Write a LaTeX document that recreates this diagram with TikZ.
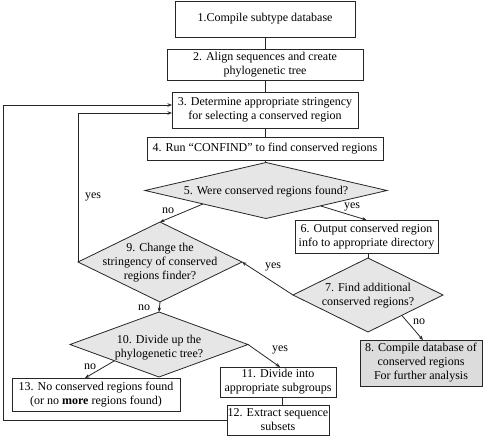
\documentclass[tikz,border=0pt]{standalone}
\usepackage{fontspec}
\setmainfont{Liberation Serif}
\usetikzlibrary{shapes.geometric,arrows.meta,calc}
\definecolor{diagray}{HTML}{E6E6E6}
\definecolor{boxgray}{HTML}{DCDCDC}
\tikzset{
  txt/.style={font=\fontsize{12}{14}\selectfont, align=center, inner sep=0pt},
  stepbox/.style={draw=black!85, line width=0.8pt, rectangle, inner sep=0pt, outer sep=0pt, txt},
  dia/.style={draw=black!85, line width=0.8pt, fill=diagray, diamond, inner sep=0pt, outer sep=0pt},
  conn/.style={draw=black!85, line width=0.8pt},
  arr/.style={conn, -{Stealth[length=4.5pt,width=3.5pt]}},
  lbl/.style={font=\fontsize{12}{14}\selectfont, inner sep=0pt}
}
\begin{document}
\begin{tikzpicture}[x=1pt,y=-1pt]
\useasboundingbox (0,0) rectangle (487,436);
% boxes
\node[stepbox, minimum width=180pt, minimum height=36pt] (b1) at (265,19) {1.Compile subtype database};
\node[stepbox, minimum width=196pt, minimum height=31pt] (b2) at (265,64.5) {2. Align sequences and create\\phylogenetic tree};
\node[stepbox, minimum width=186pt, minimum height=36pt] (b3) at (265,110) {3. Determine appropriate stringency\\for selecting a conserved region};
\node[stepbox, minimum width=236pt, minimum height=23pt] (b4) at (265,148.5) {4. Run ``CONFIND'' to find conserved regions};
\node[stepbox, minimum width=143pt, minimum height=33pt] (b6) at (366.5,236.5) {6. Output conserved region\\info to appropriate directory};
\node[stepbox, fill=boxgray, minimum width=122pt, minimum height=46pt] (b8) at (421,363) {8. Compile database of\\conserved regions\\For further analysis};
\node[stepbox, minimum width=116pt, minimum height=30pt] (b11) at (278,382) {11. Divide into\\appropriate subgroups};
\node[stepbox, minimum width=102pt, minimum height=30pt] (b12) at (278,420) {12. Extract sequence\\subsets};
\node[stepbox, minimum width=168pt, minimum height=33pt] (b13) at (96,394.5) {13. No conserved regions found\\(or no \textbf{more} regions found)};
% diamonds
\node[dia, minimum width=242pt, minimum height=56pt] (d5) at (266,190.5) {};
\node[txt] (t5) at (266,191.5) {5. Were conserved regions found?};
\node[dia, minimum width=164pt, minimum height=80pt] (d9) at (160,262) {};
\node[txt] (t9) at (160,263) {9. Change the\\stringency of conserved\\regions finder?};
\node[dia, minimum width=150pt, minimum height=74pt] (d7) at (368,295) {};
\node[txt] (t7) at (368,296) {7. Find additional\\conserved regions?};
\node[dia, minimum width=178pt, minimum height=65pt] (d10) at (159,344.5) {};
\node[txt] (t10) at (159,348) {10. Divide up the\\phylogenetic tree?};
\coordinate (lc) at (3,0);
% straight connectors
\draw[conn] (b1) -- (b2);
\draw[conn] (b2) -- (b3);
\draw[conn] (b3) -- (b4);
\draw[conn] (b4.south) -- (d5.north);
\draw[conn] (b6.south -| d7.north) -- (d7.north);
\draw[conn] (b11.south -| 282,0) -- (b12.north -| 282,0);
% arrows
\draw[arr] ($(d5.east)!0.55!(d5.south)$) -- (b6.north);
\draw[arr] ($(d5.west)!0.48!(d5.south)$) -- (d9.north);
\draw[arr] (d7.west) -- (d9.east);
\draw[arr] ($(d7.east)!0.55!(d7.south)$) -- ([xshift=2pt]b8.north);
\draw[arr] (d9.south) -- (d10.north);
\draw[arr] (d10.east) -- ([xshift=2pt]b11.north);
\draw[arr] ($(d10.west)!0.5!(d10.south)$) -- ([xshift=-11pt]b13.north);
\draw[arr] (d9.west) |- ([yshift=-3pt]b3.west);
\draw[arr] (b12.west) -- (b12.west -| lc) |- ([yshift=5pt]b3.west);
% labels
\node[lbl] (l1) at (352,207) {yes};
\node[lbl] (l2) at (168,211) {no};
\node[lbl] (l3) at (93,197) {yes};
\node[lbl] (l4) at (273,267) {yes};
\node[lbl] (l5) at (419,322) {no};
\node[lbl] (l6) at (144,308) {no};
\node[lbl] (l7) at (280,350) {yes};
\node[lbl] (l8) at (90,367) {no};
\end{tikzpicture}
\end{document}
